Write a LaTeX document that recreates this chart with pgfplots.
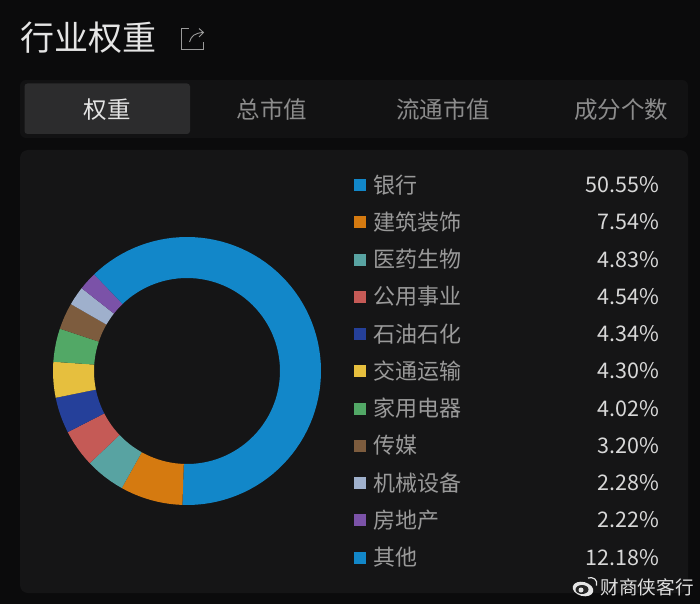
\documentclass[border=0pt]{standalone}
\usepackage{pgfplots}
\usepackage{pgfplotstable}
\usepackage{fontspec}
\pgfplotsset{compat=1.18}
\setmainfont{Noto Sans CJK SC}
\definecolor{bgc}{HTML}{0B0B0C}
\definecolor{cardc}{HTML}{151516}
\definecolor{barc}{HTML}{121213}
\definecolor{activec}{HTML}{2C2C2D}
\definecolor{iconc}{HTML}{9A9A9A}
\definecolor{sl0}{HTML}{1287C9}
\definecolor{sl1}{HTML}{D57A10}
\definecolor{sl2}{HTML}{58A3A2}
\definecolor{sl3}{HTML}{C55A56}
\definecolor{sl4}{HTML}{25409A}
\definecolor{sl5}{HTML}{E6BF3E}
\definecolor{sl6}{HTML}{52A866}
\definecolor{sl7}{HTML}{7D5C3E}
\definecolor{sl8}{HTML}{9FB0CC}
\definecolor{sl9}{HTML}{7B52A8}
\definecolor{sl10}{HTML}{1287C9}
\pgfplotstableread{
name value
银行 50.55
建筑装饰 7.54
医药生物 4.83
公用事业 4.54
石油石化 4.34
交通运输 4.30
家用电器 4.02
传媒 3.20
机械设备 2.28
房地产 2.22
其他 12.18
}\tbl
\newcommand\lab[1]{\fontsize{22}{22}\selectfont\textcolor[HTML]{9A9A9A}{#1}}
\newcommand\pct[1]{\fontsize{21.5}{22}\selectfont\textcolor[HTML]{D8D8D8}{#1}}
\newcommand\tab[2]{\fontsize{23.5}{24}\selectfont\textcolor[HTML]{#1}{#2}}
\begin{document}
\begin{tikzpicture}
\begin{axis}[
  scale only axis, width=700pt, height=604pt,
  xmin=0, xmax=700, ymin=0, ymax=604, y dir=reverse,
  hide axis, clip=true,
]
\fill[bgc] (axis cs:0,0) rectangle (axis cs:700,604);
\fill[barc, rounded corners=6pt] (axis cs:20,80) rectangle (axis cs:688,138);
\fill[activec, rounded corners=3pt] (axis cs:24.5,83.5) rectangle (axis cs:190,134);
\fill[cardc, rounded corners=8pt] (axis cs:20,150) rectangle (axis cs:688,593);
% title and tabs
\node[anchor=west, inner sep=0pt, text=white!90!black] at (axis cs:20.5,38) {\fontsize{34}{34}\selectfont 行业权重};
\node[inner sep=0pt] at (axis cs:107,109.5) {\tab{E4E4E4}{权重}};
\node[inner sep=0pt] at (axis cs:272,109.5) {\tab{8C8C8C}{总市值}};
\node[inner sep=0pt] at (axis cs:443,109.5) {\tab{8C8C8C}{流通市值}};
\node[inner sep=0pt] at (axis cs:621,109.5) {\tab{8C8C8C}{成分个数}};
% share icon
\draw[iconc, line width=0.9pt]
  (axis cs:188.5,28.5) -- (axis cs:181.5,28.5) -- (axis cs:181.5,49.5) -- (axis cs:203.5,49.5) -- (axis cs:203.5,42);
\draw[iconc, line width=0.9pt]
  (axis cs:189.5,42) .. controls (axis cs:191,36) and (axis cs:195,33) .. (axis cs:203,32.5);
\draw[iconc, line width=0.9pt]
  (axis cs:199,28.5) -- (axis cs:203.5,32.5) -- (axis cs:199,37);
% ring slices and legend, all from the table
\gdef\tstart{0}
\pgfplotsforeachungrouped \i in {0,...,10}{%
  \pgfplotstablegetelem{\i}{value}\of\tbl
  \let\val\pgfplotsretval
  \pgfplotstablegetelem{\i}{name}\of\tbl
  \let\nam\pgfplotsretval
  \pgfmathsetmacro\spanang{3.6*\val}
  \pgfmathtruncatemacro\nseg{ceil(\spanang/3)}
  \gdef\coords{}%
  \foreach \k in {0,...,\nseg}{%
    \pgfmathsetmacro\ang{90-\tstart-\k/\nseg*\spanang}
    \pgfmathsetmacro\px{187+134*cos(\ang)}
    \pgfmathsetmacro\py{371-134*sin(\ang)}
    \xdef\coords{\coords (\px,\py)}%
  }%
  \foreach \k in {\nseg,...,0}{%
    \pgfmathsetmacro\ang{90-\tstart-\k/\nseg*\spanang}
    \pgfmathsetmacro\px{187+93*cos(\ang)}
    \pgfmathsetmacro\py{371-93*sin(\ang)}
    \xdef\coords{\coords (\px,\py)}%
  }%
  \edef\cmd{\noexpand\addplot[fill=sl\i, draw=none, forget plot] coordinates {\coords};}%
  \cmd
  \pgfmathsetmacro\rowy{184.7+37.26*\i}
  \edef\cmd{\noexpand\addplot[only marks, mark=square*, mark size=5.5pt, color=sl\i, forget plot] coordinates {(359.5,\rowy)};}%
  \cmd
  \edef\cmd{\noexpand\node[anchor=west, inner sep=0pt] at (axis cs:373.5,\rowy) {\noexpand\lab{\nam}};}%
  \cmd
  \edef\cmd{\noexpand\node[anchor=east, inner sep=0pt] at (axis cs:659,\rowy) {\noexpand\pct{\val\noexpand\%}};}%
  \cmd
  \pgfmathsetmacro\tnew{\tstart+\spanang}
  \xdef\tstart{\tnew}%
}
% watermark
\node[anchor=west, inner sep=0pt, text=white!88!black] at (axis cs:600.5,587) {\fontsize{18.6}{19}\selectfont 财商侠客行};
\fill[white!90!black, rotate around={-15:(axis cs:583,589)}] (axis cs:583,589) ellipse [x radius=10.5pt, y radius=7pt];
\fill[black!85] (axis cs:582,589.5) ellipse [x radius=6.5pt, y radius=4.5pt];
\fill[white!90!black] (axis cs:581,590) circle [radius=2.5pt];
\draw[white!90!black, line width=1.2pt] (axis cs:588,578) .. controls (axis cs:593,576.5) and (axis cs:598,579.5) .. (axis cs:596.5,585.5);
\end{axis}
\end{tikzpicture}
\end{document}
